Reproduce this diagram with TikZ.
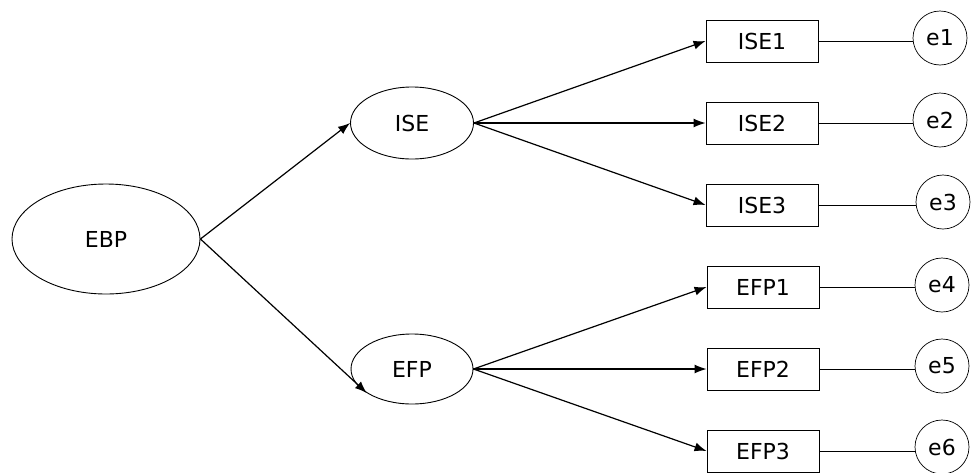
\documentclass[tikz,border=0pt]{standalone}
\usepackage{fontspec}
\setmainfont{DejaVu Sans}
\usepackage{tikz}
\usetikzlibrary{shapes.geometric, arrows.meta}

\begin{document}
\begin{tikzpicture}[x=1pt, y=-1pt, font=\fontsize{22}{26}\selectfont,
	latent/.style={draw, ellipse, inner sep=0pt, line width=0.9pt},
	item/.style={draw, rectangle, minimum width=112pt, minimum height=42pt, inner sep=0pt, line width=0.9pt},
	err/.style={draw, circle, minimum size=54pt, inner sep=0pt, line width=0.7pt},
	path/.style={-{Latex[length=12pt, width=9pt]}, line width=1.2pt}]
	\useasboundingbox (0, 0) rectangle (971, 472);
	% latent variables
	\node[latent, minimum width=188pt, minimum height=110pt] (EBP) at (106, 239) {EBP};
	\node[latent, minimum width=123pt, minimum height=72pt] (ISE) at (412, 123) {ISE};
	\node[latent, minimum width=122pt, minimum height=70pt] (EFP) at (412, 369) {EFP};
	% observed items
	\node[item] (ISE1) at (762, 41) {ISE1};
	\node[item] (ISE2) at (762, 123) {ISE2};
	\node[item] (ISE3) at (762, 205) {ISE3};
	\node[item] (EFP1) at (763, 287) {EFP1};
	\node[item] (EFP2) at (763, 369) {EFP2};
	\node[item] (EFP3) at (763, 451) {EFP3};
	% error terms
	\node[err] (e1) at (940, 38) {e1};
	\node[err] (e2) at (940, 120) {e2};
	\node[err] (e3) at (943, 202) {e3};
	\node[err] (e4) at (942, 285) {e4};
	\node[err] (e5) at (942, 366) {e5};
	\node[err] (e6) at (942, 447) {e6};
	% paths
	\draw[path] (EBP.east) -- (ISE.west);
	\draw[path] (EBP.east) -- (EFP.208);
	\draw[path] (ISE.east) -- (ISE1.west);
	\draw[path] (ISE.east) -- (ISE2.west);
	\draw[path] (ISE.east) -- (ISE3.west);
	\draw[path] (EFP.east) -- (EFP1.west);
	\draw[path] (EFP.east) -- (EFP2.west);
	\draw[path] (EFP.east) -- (EFP3.west);
	% error links
	\draw[line width=0.9pt] (ISE1.east) -- (ISE1.east -| e1.west);
	\draw[line width=0.9pt] (ISE2.east) -- (ISE2.east -| e2.west);
	\draw[line width=0.9pt] (ISE3.east) -- (ISE3.east -| e3.west);
	\draw[line width=0.9pt] (EFP1.east) -- (EFP1.east -| e4.west);
	\draw[line width=0.9pt] (EFP2.east) -- (EFP2.east -| e5.west);
	\draw[line width=0.9pt] (EFP3.east) -- (EFP3.east -| e6.west);
\end{tikzpicture}
\end{document}
